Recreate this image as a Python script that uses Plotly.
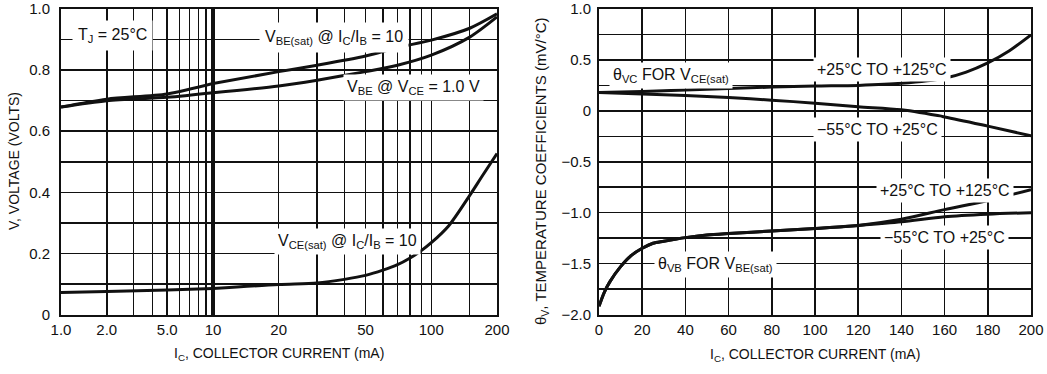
import numpy as np
import plotly.graph_objects as go

W, H = 1047, 374
FONT = "Liberation Sans, Arial, sans-serif"
INK = "#111111"

# ---------------- Left chart: "ON" voltages vs collector current ----------------
ic_vbe = [1, 2, 5, 10, 20, 30, 50, 70, 100, 150, 200]              # mA
vbe_sat = [0.679, 0.705, 0.722, 0.756, 0.795, 0.816, 0.846, 0.874, 0.898, 0.937, 0.984]
vbe_on = [0.679, 0.700, 0.711, 0.726, 0.748, 0.767, 0.795, 0.816, 0.849, 0.908, 0.974]

ic_vce = [1, 2, 5, 10, 20, 30, 40, 50, 60, 70, 80, 90, 100, 120, 150, 170, 200]
vce_sat = [0.072, 0.075, 0.080, 0.085, 0.098, 0.103, 0.115, 0.128, 0.145, 0.163,
           0.185, 0.209, 0.235, 0.290, 0.390, 0.450, 0.527]

left_y_ticks = [0, 0.1, 0.2, 0.3, 0.4, 0.5, 0.6, 0.7, 0.8, 0.9, 1.0]
left_y_text = ["0", "", "0.2", "", "0.4", "", "0.6", "", "0.8", "", "1.0"]
left_x1_ticks = [1, 2, 3, 4, 5, 6, 7, 8, 9]
left_x1_text = ["1.0", "2.0", "", "", "5.0", "", "", "", ""]
left_x2_ticks = [10, 20, 30, 40, 50, 60, 70, 80, 90, 100, 150, 200]
left_x2_text = ["10", "20", "", "", "50", "", "", "", "", "100", "", "200"]

# ---------------- Right chart: temperature coefficients ----------------
ic_vc_hi = [0, 20, 40, 60, 80, 100, 120, 140, 160, 170, 180, 190, 200]
theta_vc_hi = [0.18, 0.19, 0.205, 0.22, 0.233, 0.243, 0.25, 0.27, 0.32, 0.38, 0.47, 0.59, 0.745]
ic_vc_lo = [0, 20, 40, 60, 80, 100, 120, 140, 160, 180, 200]
theta_vc_lo = [0.18, 0.165, 0.15, 0.13, 0.105, 0.075, 0.04, 0.01, -0.06, -0.15, -0.245]

ic_vb = [0, 2.5, 5, 10, 15, 20, 25, 30, 40, 50, 60, 80, 100, 120, 140, 160, 180, 200]
theta_vb_hi = [-1.92, -1.78, -1.68, -1.53, -1.42, -1.35, -1.30, -1.28, -1.245, -1.22,
               -1.205, -1.18, -1.155, -1.125, -1.065, -0.97, -0.88, -0.775]
theta_vb_lo = [-1.92, -1.78, -1.68, -1.53, -1.42, -1.35, -1.30, -1.28, -1.245, -1.22,
               -1.205, -1.18, -1.155, -1.125, -1.09, -1.04, -1.015, -1.0]

right_x_ticks = list(range(0, 201, 20))
right_y_ticks = [1.0, 0.75, 0.5, 0.25, 0, -0.25, -0.5, -0.75, -1.0, -1.25, -1.5, -1.75, -2.0]
right_y_text = ["1.0", "", "0.5", "", "0", "", "\u22120.5", "", "\u22121.0", "", "\u22121.5", "", "\u22122.0"]

# ---------------- layout geometry (pixels) ----------------
def px_x(p):
    return p / W

def px_y(p):
    return 1 - p / H

L0, LMID, L1 = 61, 213, 497
R0, R1 = 599, 1031
TOP, BOT = 9, 314.5

fig = go.Figure()
line = dict(color=INK, width=3, shape="spline", smoothing=0.8)


def add_left_curve(xs, ys):
    xa = [x for x in xs if x <= 10]
    ya = [y for x, y in zip(xs, ys) if x <= 10]
    xb = [x for x in xs if x >= 10]
    yb = [y for x, y in zip(xs, ys) if x >= 10]
    fig.add_trace(go.Scatter(x=xa, y=ya, mode="lines", line=line, xaxis="x", yaxis="y",
                             showlegend=False, hoverinfo="skip"))
    fig.add_trace(go.Scatter(x=xb, y=yb, mode="lines", line=line, xaxis="x3", yaxis="y",
                             showlegend=False, hoverinfo="skip"))


add_left_curve(ic_vbe, vbe_sat)
add_left_curve(ic_vbe, vbe_on)
add_left_curve(ic_vce, vce_sat)

for xs, ys in [(ic_vc_hi, theta_vc_hi), (ic_vc_lo, theta_vc_lo),
               (ic_vb, theta_vb_hi), (ic_vb, theta_vb_lo)]:
    fig.add_trace(go.Scatter(x=xs, y=ys, mode="lines", line=line, xaxis="x2", yaxis="y2",
                             showlegend=False, hoverinfo="skip"))

tickfont = dict(family=FONT, size=15, color=INK)
common = dict(showgrid=True, gridcolor=INK, gridwidth=1.5, showline=True, linecolor=INK,
              linewidth=2, mirror="all", ticks="", zeroline=False, tickfont=tickfont,
              automargin=False)

fig.update_layout(
    width=W, height=H,
    margin=dict(l=0, r=0, t=0, b=0),
    paper_bgcolor="white", plot_bgcolor="white",
    font=dict(family=FONT, color=INK),
    xaxis=dict(type="log", range=[0, 1], domain=[px_x(L0), px_x(LMID)], anchor="y",
               tickmode="array", tickvals=left_x1_ticks, ticktext=left_x1_text, **common),
    xaxis3=dict(type="log", range=[1, np.log10(200)], domain=[px_x(LMID), px_x(L1)], anchor="y",
                tickmode="array", tickvals=left_x2_ticks, ticktext=left_x2_text, **common),
    yaxis=dict(range=[0, 1], domain=[px_y(BOT), px_y(TOP)], anchor="x",
               tickmode="array", tickvals=left_y_ticks, ticktext=left_y_text,
               ticklabelstandoff=6, **common),
    xaxis2=dict(range=[0, 200], domain=[px_x(R0), px_x(R1)], anchor="y2",
                tickmode="array", tickvals=right_x_ticks, **common),
    yaxis2=dict(range=[-2, 1], domain=[px_y(BOT), px_y(TOP)], anchor="x2",
                tickmode="array", tickvals=right_y_ticks, ticktext=right_y_text,
                ticklabelstandoff=3, **common),
)

afont = dict(family=FONT, size=16, color=INK)


def label(text, x, y, xref, yref, pad=3):
    fig.add_annotation(text=text, x=x, y=y, xref=xref, yref=yref, showarrow=False,
                       font=afont, bgcolor="white", borderpad=pad, xanchor="center",
                       yanchor="middle")


# left chart labels
label("T<sub>J</sub> = 25\u00b0C", np.log10(2.17), 0.912, "x", "y", pad=5)
label("V<sub>BE(sat)</sub> @ I<sub>C</sub>/I<sub>B</sub> = 10", np.log10(35.9), 0.908, "x3", "y", pad=5)
label("V<sub>BE</sub> @ V<sub>CE</sub> = 1.0 V", np.log10(82.7), 0.744, "x3", "y")
label("V<sub>CE(sat)</sub> @ I<sub>C</sub>/I<sub>B</sub> = 10", np.log10(41.2), 0.238, "x3", "y")

# right chart labels
label("\u03b8<sub>VC</sub> FOR V<sub>CE(sat)</sub>", 33.5, 0.345, "x2", "y2")
label("+25\u00b0C TO +125\u00b0C", 131, 0.41, "x2", "y2")
label("\u221255\u00b0C TO +25\u00b0C", 129, -0.18, "x2", "y2")
label("+25\u00b0C TO +125\u00b0C", 160, -0.785, "x2", "y2")
label("\u221255\u00b0C TO +25\u00b0C", 160, -1.245, "x2", "y2")
label("\u03b8<sub>VB</sub> FOR V<sub>BE(sat)</sub>", 54, -1.51, "x2", "y2")

# axis titles
tfont = dict(family=FONT, size=14, color=INK)


def title(text, x, y, angle=0, size=14):
    fig.add_annotation(text=text, x=px_x(x), y=px_y(y), xref="paper", yref="paper",
                       textangle=angle, showarrow=False, xanchor="center", yanchor="middle",
                       font=dict(family=FONT, size=size, color=INK))


title("V, VOLTAGE (VOLTS)", 14, 161, -90)
title("\u03b8<sub>V</sub>, TEMPERATURE COEFFICIENTS (mV/\u00b0C)", 541, 172, -90, 15)
title("I<sub>C</sub>, COLLECTOR CURRENT (mA)", 279, 354)
title("I<sub>C</sub>, COLLECTOR CURRENT (mA)", 815, 355)

fig.write_html("out.html", config={"displayModeBar": False, "staticPlot": True},
               post_script="document.body.style.margin='0';document.body.style.overflow='hidden';")
